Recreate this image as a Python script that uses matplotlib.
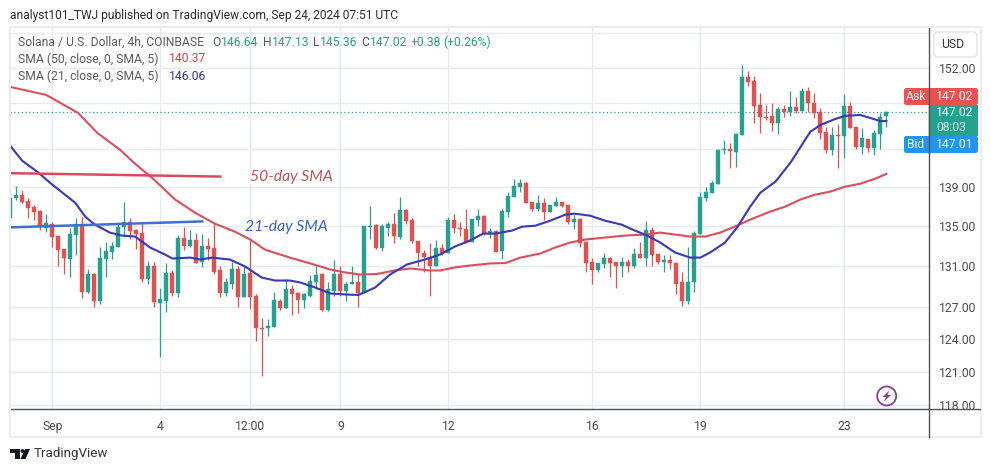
import matplotlib

matplotlib.use("Agg")
import matplotlib.pyplot as plt
from matplotlib.patches import Circle, FancyBboxPatch, Polygon, Rectangle
from matplotlib.ticker import NullLocator

plt.rcParams["font.family"] = ["Roboto", "DejaVu Sans"]

# candles, 4h bars
opens = [135.83, 137.89, 138.2, 137.58, 136.96, 136.55, 134.82, 135.22, 134.02, 132.72,
         131.73, 134.12, 135.22, 128.41, 130.16, 127.55, 131.73, 132.42, 132.92, 134.92,
         135.43, 134.62, 134.32, 129.67, 130.95, 127.36, 127.55, 130.26, 128.32, 133.82,
         133.02, 133.62, 131.43, 133.02, 132.82, 130.55, 128.32, 129.28, 130.65, 127.93,
         130.26, 128.03, 124.99, 124.99, 125.09, 127.55, 126.88, 128.79, 128.32, 127.64,
         128.12, 129.47, 130.16, 126.69, 128.6, 130.16, 128.51, 129.28, 129.38, 128.32,
         134.92, 135.12, 132.82, 134.82, 135.22, 133.92, 136.65, 135.63, 133.52, 132.32,
         131.92, 131.04, 132.82, 132.32, 135.63, 134.82, 134.72, 133.42, 135.63, 136.04,
         134.22, 134.52, 132.52, 136.45, 137.99, 139.03, 139.45, 137.47, 136.75, 137.37,
         136.45, 137.06, 137.47, 137.16, 135.43, 135.73, 133.42, 131.43, 130.55, 131.14,
         131.82, 131.43, 131.04, 131.43, 131.04, 132.22, 131.82, 134.62, 132.22, 131.43,
         131.63, 131.33, 129.47, 127.55, 129.38, 134.22, 137.89, 138.41, 139.34, 142.93,
         143.04, 142.72, 144.55, 150.98, 150.52, 147.83, 146.5, 146.61, 145.85, 147.39,
         147.06, 147.61, 147.17, 149.39, 148.06, 147.06, 144.87, 142.93, 144.55, 144.44,
         147.72, 145.42, 143.25, 144.12, 143.15, 144.66, 146.64]
highs = [138.72, 139.14, 138.72, 137.89, 137.16, 136.65, 136.24, 135.43, 134.02, 132.72,
         134.82, 135.83, 135.94, 130.65, 130.26, 132.92, 133.42, 133.42, 135.43, 137.47,
         135.83, 134.72, 135.32, 131.53, 131.43, 128.89, 131.33, 130.55, 134.12, 134.92,
         134.62, 134.32, 134.22, 133.82, 135.32, 131.04, 129.86, 131.43, 131.04, 130.95,
         133.72, 128.22, 125.93, 125.84, 128.41, 127.74, 129.67, 129.18, 128.41, 128.32,
         130.06, 130.95, 130.26, 129.38, 131.63, 130.95, 129.38, 130.95, 130.16, 135.02,
         137.06, 135.22, 135.22, 135.43, 136.34, 137.99, 136.75, 135.83, 133.52, 132.62,
         133.32, 133.62, 133.22, 135.94, 136.24, 135.43, 136.75, 135.73, 136.75, 136.14,
         134.82, 134.62, 136.75, 138.51, 139.86, 139.86, 139.55, 137.47, 138.2, 137.89,
         137.16, 137.99, 137.47, 137.16, 136.14, 135.83, 133.42, 131.82, 131.24, 132.32,
         131.92, 131.43, 131.92, 131.73, 132.82, 133.42, 135.53, 134.92, 132.22, 132.12,
         132.12, 131.33, 130.36, 132.92, 134.52, 138.51, 139.03, 139.66, 143.04, 144.01,
         143.69, 144.77, 152.34, 151.66, 151.09, 149.17, 147.83, 148.06, 147.61, 147.83,
         149.39, 148.72, 149.73, 149.85, 149.17, 147.5, 145.42, 145.42, 145.74, 149.06,
         148.17, 145.42, 145.31, 144.12, 145.09, 146.95, 147.13]
lows = [135.63, 137.68, 137.37, 135.83, 135.63, 134.62, 134.42, 132.92, 131.04, 130.16,
        129.96, 132.12, 127.84, 128.32, 126.98, 127.26, 129.96, 131.73, 132.92, 133.92,
        133.72, 132.72, 129.38, 129.28, 126.98, 122.31, 126.5, 128.03, 127.93, 132.62,
        132.92, 131.24, 130.85, 131.63, 130.16, 127.93, 128.12, 128.7, 126.98, 127.93,
        126.79, 123.79, 120.58, 124.25, 125.09, 126.69, 126.88, 126.22, 126.41, 126.88,
        127.93, 128.7, 126.6, 126.6, 128.03, 128.03, 127.55, 129.28, 126.98, 128.32,
        133.72, 132.72, 132.52, 134.02, 133.32, 133.72, 135.22, 133.32, 131.04, 130.36,
        128.12, 131.04, 132.12, 132.32, 134.32, 134.02, 133.32, 133.42, 135.02, 134.12,
        133.82, 132.42, 131.73, 135.94, 137.99, 138.51, 137.37, 136.55, 136.55, 135.63,
        136.45, 137.06, 136.96, 135.22, 134.72, 132.92, 130.45, 129.28, 130.36, 130.75,
        129.96, 128.89, 129.96, 130.36, 130.75, 131.82, 130.95, 131.04, 131.14, 130.36,
        130.65, 128.22, 127.07, 127.26, 128.41, 134.22, 137.58, 138.41, 139.34, 142.5,
        141.02, 141.13, 144.55, 149.96, 145.85, 144.77, 146.18, 144.98, 144.66, 146.5,
        146.62, 146.95, 147.17, 147.06, 146.4, 144.12, 142.61, 142.39, 141.02, 142.08,
        145.31, 143.04, 142.5, 142.72, 142.39, 143.04, 145.36]
closes = [137.89, 138.2, 137.47, 136.86, 136.45, 135.02, 135.32, 133.92, 132.62, 131.82,
          134.22, 135.22, 128.41, 130.16, 127.55, 131.82, 132.52, 133.02, 134.92, 135.43,
          134.52, 134.22, 129.67, 130.95, 127.45, 127.74, 130.26, 128.32, 133.82, 133.02,
          133.62, 131.33, 133.02, 132.72, 130.45, 128.32, 129.38, 130.65, 127.93, 130.16,
          127.93, 124.99, 124.9, 125.18, 127.64, 126.88, 128.79, 128.22, 127.64, 128.22,
          129.57, 130.06, 126.69, 128.7, 130.16, 128.51, 129.28, 129.38, 128.32, 135.02,
          135.02, 132.82, 135.02, 135.22, 134.02, 136.65, 135.53, 133.52, 132.32, 131.92,
          131.04, 132.82, 132.32, 135.63, 134.82, 134.72, 133.42, 135.73, 136.04, 134.32,
          134.52, 132.42, 136.55, 138.09, 139.14, 139.45, 137.37, 136.75, 137.37, 136.45,
          137.16, 137.47, 137.06, 135.43, 135.73, 133.32, 131.33, 130.55, 131.24, 131.82,
          131.33, 131.04, 131.43, 131.04, 132.22, 131.82, 134.62, 132.12, 131.43, 131.63,
          131.33, 129.28, 127.55, 129.47, 134.32, 137.99, 138.51, 139.45, 142.93, 143.04,
          142.82, 144.66, 150.98, 150.41, 147.72, 146.5, 146.4, 145.85, 147.39, 147.06,
          147.61, 147.17, 149.39, 148.06, 146.95, 144.77, 142.93, 144.55, 144.44, 147.72,
          145.31, 143.25, 144.22, 143.15, 144.77, 146.5, 147.02]

# moving averages, read at a handful of bars
sma50_bars = [0, 6, 11.3, 14.5, 18.3, 20.8, 23.6, 27.5, 30.8, 34.1, 37.4, 40, 42.4, 46.6, 50,
              53.3, 55.8, 58.3, 61, 64.1, 66.6, 70, 71.6, 74.1, 76.6, 80, 82.5, 85, 88.3,
              90.8, 93.3, 95.8, 99.1, 102.4, 105.8, 108.3, 110.8, 113.3, 115.8, 118.3,
              121.1, 123.3, 126.6, 129.1, 131.6, 134.1, 136.6, 139.1, 141.6, 144.1, 146]
sma50_vals = [149.85, 148.95, 146.95, 144.77, 142.93, 141.45, 139.97, 137.68, 136.34, 135.22,
              134.42, 133.62, 132.62, 131.82, 131.24, 130.65, 130.36, 130.16, 130.2, 130.55,
              130.75, 130.55, 130.55, 130.85, 131.04, 131.24, 131.28, 131.82, 132.22, 132.82,
              133.32, 133.62, 133.82, 134.02, 134.12, 134.32, 134.12, 133.92, 133.92, 134.32,
              135.02, 135.63, 136.45, 136.96, 137.68, 138.2, 138.51, 139.03, 139.34, 139.86,
              140.37]
sma21_bars = [0, 2, 4.5, 6.6, 10.8, 12.5, 14.1, 16.6, 18.6, 20.8, 23.3, 25.8, 27, 30, 31.6,
              33.6, 36.6, 39.1, 41.9, 44.1, 46.6, 48.3, 50.8, 52.5, 53.3, 55.8, 58, 60.8,
              63.3, 66.1, 69.1, 71.6, 74.1, 76.6, 78.8, 80.8, 83.6, 85.3, 87.5, 90, 92.5,
              94.1, 96.6, 99.1, 101.9, 104.1, 105.8, 108.3, 110.8, 113.3, 115, 116.6, 119.1,
              121.1, 123.3, 125, 127.5, 130, 131.6, 133.3, 135, 137.5, 139.1, 141.6, 143.3,
              145, 146]
sma21_vals = [143.36, 141.76, 140.6, 139.45, 137.37, 135.94, 135.12, 134.32, 134.02, 133.92,
              132.82, 132.12, 131.73, 131.82, 131.63, 131.82, 131.63, 130.95, 129.86, 129.57,
              129.57, 129.38, 128.89, 128.51, 128.32, 128.22, 128.17, 128.89, 130.16, 131.14,
              131.63, 132.12, 132.92, 133.52, 134.22, 134.22, 134.52, 134.92, 135.02, 135.53,
              136.14, 136.24, 136.04, 135.53, 135.12, 134.52, 134.12, 133.32, 132.32, 131.82,
              131.82, 132.32, 133.32, 134.82, 136.96, 138.41, 139.55, 141.55, 143.15, 144.87,
              145.63, 146.29, 146.62, 146.73, 146.4, 146.06, 146.06]

# hand drawn trend lines on the chart
line50_bars = [0, 35]
line50_vals = [140.45, 140.09]
line21_bars = [0, 32]
line21_vals = [134.85, 135.45]

x_ticks = [7, 25, 40, 55, 73, 97, 115, 139]
x_labels = ["Sep", "4", "12:00", "9", "12", "16", "19", "23"]
y_ticks = [156, 152, 148, 143, 139, 135, 131, 127, 124, 121, 118]
# 156, 148 and 143 sit behind the USD button and the badges
y_hidden = [156, 148, 143]
last_price = 147.02

UP = "#26a08f"
DOWN = "#e2514f"
RED_SMA = "#dc4e5c"
BLUE_SMA = "#3838bb"
W, H = 991, 472

fig = plt.figure(figsize=(W / 100, H / 100), dpi=100, facecolor="white")
ax = fig.add_axes([10 / W, 1 - 409 / H, (929 - 10) / W, (409 - 27) / H])
ax.set_yscale("log")
ax.set_xlim(-0.05, 153.1)
ax.set_ylim(117.65, 156.75)

ax.set_xticks(x_ticks)
ax.set_xticklabels(x_labels)
ax.set_yticks(y_ticks)
ax.set_yticklabels(["" if v in y_hidden else f"{v:.2f}" for v in y_ticks])
ax.yaxis.set_minor_locator(NullLocator())
ax.yaxis.tick_right()
ax.tick_params(axis="both", length=0, labelsize=8.7, labelcolor="#4a4a4a")
ax.tick_params(axis="x", pad=8)
ax.tick_params(axis="y", pad=7)
ax.grid(True, color="#e6edf1", linewidth=1)
ax.set_axisbelow(True)
for side in ("top", "left"):
    ax.spines[side].set_visible(False)
for side in ("right", "bottom"):
    ax.spines[side].set_color("#505458")
    ax.spines[side].set_linewidth(1)

bars = list(range(len(opens)))
colors = [UP if c >= o else DOWN for o, c in zip(opens, closes)]
ax.vlines(bars, lows, highs, colors=colors, linewidth=0.9, zorder=2)
ax.bar(bars, [abs(c - o) for o, c in zip(opens, closes)],
       bottom=[min(o, c) for o, c in zip(opens, closes)],
       width=0.68, color=colors, edgecolor=colors, linewidth=0.3, zorder=3)

ax.plot(sma50_bars, sma50_vals, color=RED_SMA, linewidth=1.5, zorder=4)
ax.plot(sma21_bars, sma21_vals, color=BLUE_SMA, linewidth=1.5, zorder=5)
ax.plot(line50_bars, line50_vals, color="#d84a5c", linewidth=1.8, zorder=6)
ax.plot(line21_bars, line21_vals, color="#3f6fd0", linewidth=1.8, zorder=6)
ax.axhline(last_price, color=UP, linewidth=0.9, linestyle=(0, (1, 2)), zorder=1)

# everything else sits on an overlay measured in pixels
ov = fig.add_axes([0, 0, 1, 1], zorder=10)
ov.set_xlim(0, W)
ov.set_ylim(H, 0)
ov.axis("off")

# panel border
ov.add_patch(Rectangle((9.5, 27), 971, 410, fill=False, edgecolor="#ededed", linewidth=1.4))
ov.plot([929, 929], [409, 437], color="#505458", linewidth=1)
ov.plot([929, 980], [409, 409], color="#505458", linewidth=1)

ov.text(10, 15, "analyst101_TWJ published on TradingView.com, Sep 24, 2024 07:51 UTC",
        fontsize=8.65, color="#2a2a2a", va="center")

GREY = "#5a5a5a"
ov.text(18, 42, "Solana / U.S. Dollar, 4h, COINBASE", fontsize=8.7, color=GREY, va="center")
ohlc = [(212, "O", "146.64"), (263, "H", "147.13"), (313, "L", "145.36"), (361, "C", "147.02")]
for x, letter, value in ohlc:
    ov.text(x, 42, letter, fontsize=8.7, color=GREY, va="center")
    ov.text(x + (7 if letter == "L" else 9), 42, value, fontsize=8.7, color=UP, va="center")
ov.text(411, 42, "+0.38", fontsize=8.7, color=UP, va="center")
ov.text(443, 42, "(+0.26%)", fontsize=8.7, color=UP, va="center")
ov.text(18, 59, "SMA (50, close, 0, SMA, 5)", fontsize=8.7, color=GREY, va="center")
ov.text(169, 59, "140.37", fontsize=8.7, color="#c8454f", va="center")
ov.text(18, 76, "SMA (21, close, 0, SMA, 5)", fontsize=8.7, color=GREY, va="center")
ov.text(169, 76, "146.06", fontsize=8.7, color="#3434a8", va="center")

ov.text(250, 177, "50-day SMA", fontsize=11.3, style="italic", color="#c4505a", va="center",
        family="Lato")
ov.text(245, 227, "21-day SMA", fontsize=11.3, style="italic", color="#3a62bb", va="center",
        family="Lato")

# USD button and price badges
ov.add_patch(FancyBboxPatch((934, 32), 43, 25, boxstyle="round,pad=0,rounding_size=4",
                            facecolor="white", edgecolor="#e4e4e4", linewidth=1))
ov.text(952.5, 44, "USD", fontsize=8.7, color="#333333", ha="center", va="center")

ov.add_patch(FancyBboxPatch((904, 88), 74, 17, boxstyle="round,pad=0,rounding_size=2.5",
                            facecolor="#ea5350", edgecolor="none"))
ov.add_patch(FancyBboxPatch((904, 136), 74, 17, boxstyle="round,pad=0,rounding_size=2.5",
                            facecolor="#2196f3", edgecolor="none"))
ov.add_patch(Rectangle((929, 105), 49, 31, facecolor="#26a08f", edgecolor="none"))
ov.plot([929, 929], [88, 153], color="#505458", linewidth=1, zorder=3)
ov.text(916, 96.5, "Ask", fontsize=8.7, color="white", ha="center", va="center", zorder=4)
ov.text(955, 96.5, "147.02", fontsize=8.7, color="white", ha="center", va="center", zorder=4)
ov.text(955, 113, "147.02", fontsize=8.7, color="white", ha="center", va="center", zorder=4)
ov.text(951, 127.5, "08:03", fontsize=8.7, color="#d5efe9", ha="center", va="center", zorder=4)
ov.text(916, 145, "Bid", fontsize=8.7, color="white", ha="center", va="center", zorder=4)
ov.text(955, 145, "147.01", fontsize=8.7, color="white", ha="center", va="center", zorder=4)

# lightning icon
ov.add_patch(Circle((886.7, 396), 9.5, fill=False, edgecolor="#8e3a9d", linewidth=1.3))
ov.add_patch(Polygon([(889.5, 390.5), (882.5, 397), (886, 397), (884, 401.5), (891, 395),
                      (887.5, 395)], facecolor="#8e3a9d", edgecolor="none"))

# TradingView logo and name
ov.add_patch(Polygon([(10, 449), (20, 449), (20, 459), (15, 459), (15, 453), (10, 453)],
                     facecolor="#131722", edgecolor="none"))
ov.add_patch(Circle((22.5, 451), 1.9, facecolor="#131722", edgecolor="none"))
ov.add_patch(Polygon([(25, 449), (30, 449), (25.5, 459), (20.5, 459)],
                     facecolor="#131722", edgecolor="none"))
ov.text(34, 454, "TradingView", fontsize=9.6, color="#333333", va="center")

fig.savefig("out.png", dpi=100, facecolor="white")
